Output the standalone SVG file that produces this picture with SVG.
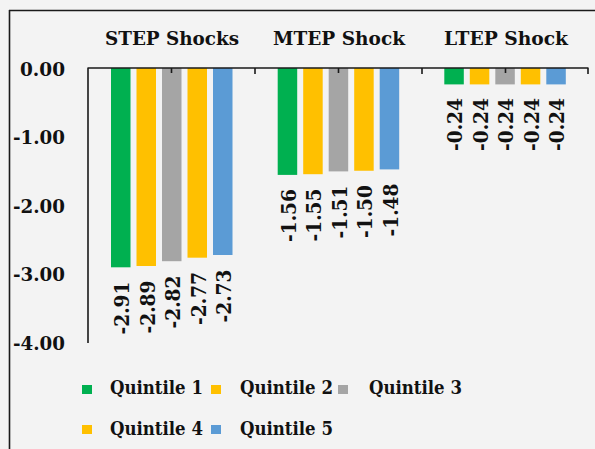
<svg xmlns="http://www.w3.org/2000/svg" width="595" height="449" viewBox="0 0 595 449">
<style>
text{font-family:"DejaVu Serif","Liberation Serif",serif;font-weight:bold;fill:#111;}
.t{font-size:18.5px;}
.ax{font-size:19px;text-anchor:end;}
.v{font-size:20px;text-anchor:end;}
.lg{font-size:19px;}
.q1{fill:#00b050;}.q2{fill:#ffc000;}.q3{fill:#a5a5a5;}.q4{fill:#ffc000;}.q5{fill:#5b9bd5;}
.ln{stroke:#1a1a1a;stroke-width:1.6;fill:none;}
</style>
<rect width="595" height="449" fill="#f3f3f3"/>
<path class="ln" d="M9 10.5H595M9.5 10V449"/>
<g id="titles">
<text class="t" x="105" y="45" textLength="134" lengthAdjust="spacingAndGlyphs">STEP Shocks</text>
<text class="t" x="273" y="45" textLength="132" lengthAdjust="spacingAndGlyphs">MTEP Shock</text>
<text class="t" x="444" y="45" textLength="124" lengthAdjust="spacingAndGlyphs">LTEP Shock</text>
</g>
<g id="y-axis">
<text class="ax" x="65" y="75.5" textLength="45" lengthAdjust="spacingAndGlyphs">0.00</text>
<text class="ax" x="65" y="144" textLength="52" lengthAdjust="spacingAndGlyphs">-1.00</text>
<text class="ax" x="65" y="212.5" textLength="52" lengthAdjust="spacingAndGlyphs">-2.00</text>
<text class="ax" x="65" y="281" textLength="52" lengthAdjust="spacingAndGlyphs">-3.00</text>
<text class="ax" x="65" y="349.5" textLength="52" lengthAdjust="spacingAndGlyphs">-4.00</text>
</g>
<g id="step-bars">
<rect class="q1" x="111" y="68" width="19.5" height="199.3"/>
<rect class="q2" x="136.5" y="68" width="19.5" height="198"/>
<rect class="q3" x="162" y="68" width="19.5" height="193.2"/>
<rect class="q4" x="187.5" y="68" width="19.5" height="189.7"/>
<rect class="q5" x="213" y="68" width="19.5" height="187"/>
<text class="v" transform="translate(129,281.5) rotate(-90)" textLength="53" lengthAdjust="spacingAndGlyphs">-2.91</text>
<text class="v" transform="translate(154.5,280.5) rotate(-90)" textLength="53" lengthAdjust="spacingAndGlyphs">-2.89</text>
<text class="v" transform="translate(180,275.5) rotate(-90)" textLength="53" lengthAdjust="spacingAndGlyphs">-2.82</text>
<text class="v" transform="translate(205.5,272) rotate(-90)" textLength="53" lengthAdjust="spacingAndGlyphs">-2.77</text>
<text class="v" transform="translate(231,269.5) rotate(-90)" textLength="53" lengthAdjust="spacingAndGlyphs">-2.73</text>
</g>
<g id="mtep-bars">
<rect class="q1" x="277.7" y="68" width="19.5" height="106.9"/>
<rect class="q2" x="303.2" y="68" width="19.5" height="106.2"/>
<rect class="q3" x="328.7" y="68" width="19.5" height="103.4"/>
<rect class="q4" x="354.2" y="68" width="19.5" height="102.75"/>
<rect class="q5" x="379.7" y="68" width="19.5" height="101.4"/>
<text class="v" transform="translate(295.5,189) rotate(-90)" textLength="53" lengthAdjust="spacingAndGlyphs">-1.56</text>
<text class="v" transform="translate(321,188.5) rotate(-90)" textLength="53" lengthAdjust="spacingAndGlyphs">-1.55</text>
<text class="v" transform="translate(346.5,185.5) rotate(-90)" textLength="53" lengthAdjust="spacingAndGlyphs">-1.51</text>
<text class="v" transform="translate(372,185) rotate(-90)" textLength="53" lengthAdjust="spacingAndGlyphs">-1.50</text>
<text class="v" transform="translate(397.5,183.5) rotate(-90)" textLength="53" lengthAdjust="spacingAndGlyphs">-1.48</text>
</g>
<g id="ltep-bars">
<rect class="q1" x="444.3" y="68" width="19.5" height="16.4"/>
<rect class="q2" x="469.8" y="68" width="19.5" height="16.4"/>
<rect class="q3" x="495.3" y="68" width="19.5" height="16.4"/>
<rect class="q4" x="520.8" y="68" width="19.5" height="16.4"/>
<rect class="q5" x="546.3" y="68" width="19.5" height="16.4"/>
<text class="v" transform="translate(462,98) rotate(-90)" textLength="53" lengthAdjust="spacingAndGlyphs">-0.24</text>
<text class="v" transform="translate(487.5,98) rotate(-90)" textLength="53" lengthAdjust="spacingAndGlyphs">-0.24</text>
<text class="v" transform="translate(513,98) rotate(-90)" textLength="53" lengthAdjust="spacingAndGlyphs">-0.24</text>
<text class="v" transform="translate(538.5,98) rotate(-90)" textLength="53" lengthAdjust="spacingAndGlyphs">-0.24</text>
<text class="v" transform="translate(564,98) rotate(-90)" textLength="53" lengthAdjust="spacingAndGlyphs">-0.24</text>
</g>
<g id="axes">
<path class="ln" d="M88 67.5V343M88 68H588.5M171.5 68V73M255 68V74M338.5 68V73M422 68V74M505.5 68V73M588 68V74"/>
</g>
<g id="legend">
<rect class="q1" x="82" y="385" width="10" height="9"/>
<text class="lg" x="110" y="394" textLength="93" lengthAdjust="spacingAndGlyphs">Quintile 1</text>
<rect class="q2" x="211" y="385" width="10" height="9"/>
<text class="lg" x="240" y="394" textLength="93" lengthAdjust="spacingAndGlyphs">Quintile 2</text>
<rect class="q3" x="338" y="385" width="10" height="9"/>
<text class="lg" x="369" y="394" textLength="93" lengthAdjust="spacingAndGlyphs">Quintile 3</text>
<rect class="q4" x="82" y="425" width="10" height="9"/>
<text class="lg" x="110" y="435" textLength="93" lengthAdjust="spacingAndGlyphs">Quintile 4</text>
<rect class="q5" x="211" y="425" width="10" height="9"/>
<text class="lg" x="240" y="435" textLength="93" lengthAdjust="spacingAndGlyphs">Quintile 5</text>
</g>
</svg>
